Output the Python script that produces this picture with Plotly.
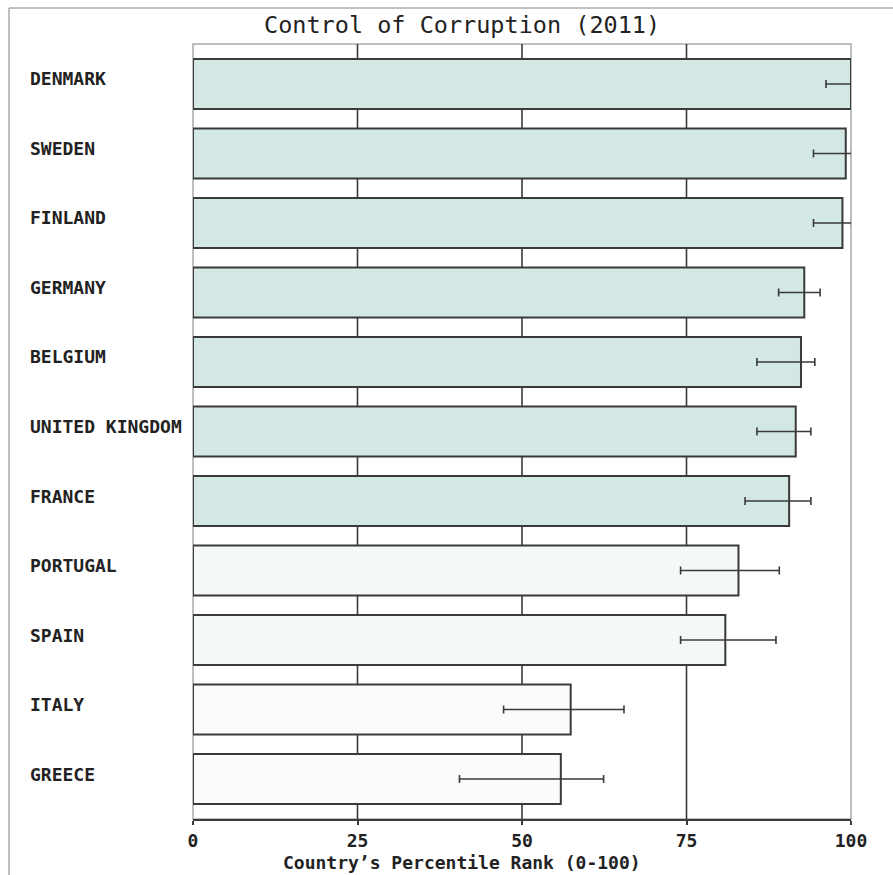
import plotly.graph_objects as go

countries = ["DENMARK", "SWEDEN", "FINLAND", "GERMANY", "BELGIUM", "UNITED KINGDOM",
             "FRANCE", "PORTUGAL", "SPAIN", "ITALY", "GREECE"]
rank = [100.0, 99.2, 98.7, 92.9, 92.4, 91.6, 90.6, 82.9, 80.9, 57.4, 55.9]
err_low = [96.2, 94.3, 94.3, 89.0, 85.7, 85.7, 83.9, 74.1, 74.1, 47.2, 40.5]
err_high = [100.0, 100.1, 100.1, 95.3, 94.5, 93.9, 93.9, 89.1, 88.6, 65.5, 62.4]
group = ["top", "top", "top", "top", "top", "top", "top", "mid", "mid", "low", "low"]
x_ticks = [0, 25, 50, 75, 100]
title_text = "Control of Corruption (2011)"
x_title = "Country’s Percentile Rank (0-100)"

group_colors = {"top": "#d3e8e5", "mid": "#f4f8f9", "low": "#fafcfc"}
FONT = "DejaVu Sans Mono"
DARK = "#3a3a3a"
GREY = "#ababab"

n = len(countries)
fig = go.Figure()
fig.add_trace(go.Bar(
    x=rank, y=list(range(n)), orientation="h",
    marker=dict(color=[group_colors[g] for g in group], line=dict(color=DARK, width=2)),
    error_x=dict(type="data", symmetric=False,
                 array=[h - v for h, v in zip(err_high, rank)],
                 arrayminus=[v - l for l, v in zip(err_low, rank)],
                 color=DARK, thickness=1.6, width=4),
    hoverinfo="x+y", showlegend=False,
))

shapes = []
shapes.append(dict(type="rect", xref="paper", yref="paper", x0=0, x1=1, y0=0, y1=1,
                   line=dict(color=GREY, width=1.5), layer="below"))
for t in x_ticks[1:-1]:
    shapes.append(dict(type="line", xref="x", yref="paper", x0=t, x1=t, y0=0, y1=1,
                       line=dict(color=DARK, width=1.6), layer="below"))
shapes.append(dict(type="line", xref="paper", yref="paper", x0=-0.2796, x1=1.2, y0=1.0465, y1=1.0465,
                   line=dict(color=GREY, width=1.5)))
shapes.append(dict(type="line", xref="paper", yref="paper", x0=-0.2796, x1=-0.2796, y0=1.0465, y1=-0.09,
                   line=dict(color=GREY, width=1.5)))

annotations = []
for i, c in enumerate(countries):
    annotations.append(dict(text=c, xref="paper", yref="y", x=-0.2508, y=i, xanchor="left",
                            yanchor="middle", yshift=5, showarrow=False,
                            font=dict(family=FONT, size=18, color="#222", weight="bold")))
annotations.append(dict(text=title_text, xref="paper", yref="paper", x=0.409, y=1.0245,
                        xanchor="center", yanchor="middle", showarrow=False,
                        font=dict(family=FONT, size=23.5, color="#222")))
annotations.append(dict(text=x_title, xref="paper", yref="paper", x=0.409, y=-0.0555,
                        xanchor="center", yanchor="middle", showarrow=False,
                        font=dict(family=FONT, size=18, color="#222", weight="bold")))

fig.update_layout(
    width=893, height=875,
    margin=dict(l=193, r=42, t=44, b=56, autoexpand=False),
    paper_bgcolor="white", plot_bgcolor="white",
    bargap=0.28,
    shapes=shapes, annotations=annotations,
    xaxis=dict(range=[0, 100], tickvals=x_ticks, ticktext=[str(t) for t in x_ticks],
               showgrid=False, zeroline=False, showline=True, linecolor=DARK, linewidth=2,
               ticks="outside", ticklen=4, tickwidth=1.6, tickcolor=DARK,
               tickfont=dict(family=FONT, size=18, color="#222", weight="bold"), fixedrange=True),
    yaxis=dict(range=[n - 1 + 0.575, -0.575], showticklabels=False, showgrid=False,
               zeroline=False, showline=False, ticks="", fixedrange=True),
)

fig.write_html("out.html", config={"displayModeBar": False},
               post_script="document.body.style.margin='0';document.body.style.overflow='hidden';")
